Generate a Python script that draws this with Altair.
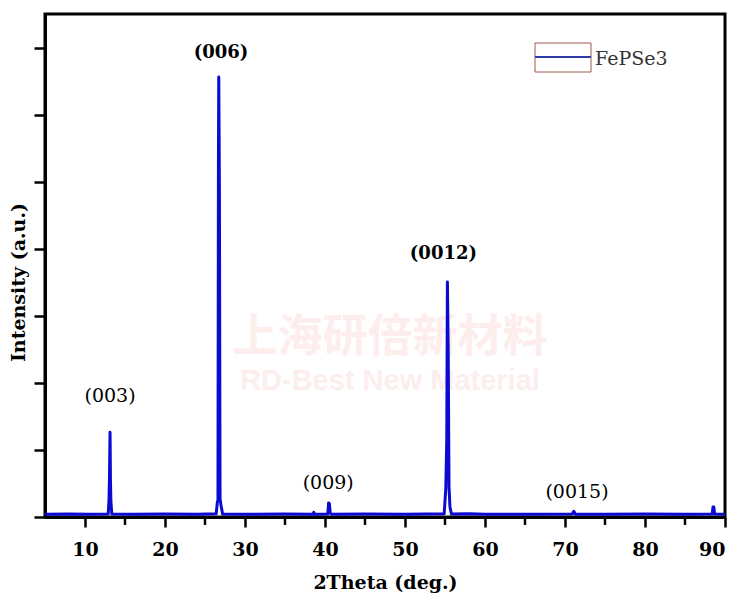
import altair as alt
import pandas as pd

two_theta = [5.0, 8.0, 10.5, 12.9, 13.0, 13.06, 13.13, 13.18, 13.24, 13.35,
             16.0, 20.0, 24.0, 26.4, 26.55, 26.62, 26.68, 26.72, 26.8, 26.88,
             27.0, 27.2, 30.0, 35.0, 38.5, 38.6, 38.7, 40.35, 40.45, 40.55,
             40.65, 40.8, 45.0, 50.0, 54.9, 55.1, 55.22, 55.3, 55.4, 55.5,
             55.62, 55.8, 58.0, 60.0, 65.0, 70.9, 71.1, 71.3, 75.0, 80.0,
             85.0, 88.4, 88.5, 88.6, 88.7, 90.0]
intensity = [0.08, 0.09, 0.08, 0.09, 0.5, 1.2, 2.53, 1.1, 0.45, 0.09,
             0.08, 0.09, 0.08, 0.1, 0.45, 0.5, 10.5, 13.12, 9.8, 0.55,
             0.35, 0.09, 0.08, 0.09, 0.08, 0.14, 0.08, 0.09, 0.42, 0.4,
             0.12, 0.08, 0.09, 0.08, 0.1, 0.85, 2.3, 7.01, 5.0, 0.9,
             0.3, 0.09, 0.1, 0.08, 0.08, 0.09, 0.17, 0.08, 0.08, 0.09,
             0.08, 0.09, 0.3, 0.3, 0.09, 0.08]

bold_labels = ["(006)", "(0012)"]
bold_x = [27.0, 54.8]
bold_y = [13.84, 7.84]
reg_labels = ["(003)", "(009)", "(0015)"]
reg_x = [13.13, 40.4, 71.5]
reg_y = [3.61, 1.01, 0.75]

x_major = [10, 20, 30, 40, 50, 60, 70, 80, 90]
x_minor = [15, 25, 35, 45, 55, 65, 75, 85]
y_ticks = list(range(0, 16))

series_name = ["FePSe3"]
watermark_cn = ["上海研倍新材料"]
watermark_en = ["RD-Best New Material"]

SERIF = "DejaVu Serif"
BLUE = "#0a0ad2"

df = pd.DataFrame({"two_theta": two_theta, "intensity": intensity})
x_scale = alt.Scale(domain=[5, 90], nice=False, zero=False)
y_scale = alt.Scale(domain=[0, 15], nice=False)

line = alt.Chart(df).mark_line(color=BLUE, strokeWidth=3, strokeJoin="round").encode(
    x=alt.X("two_theta:Q", scale=x_scale,
            axis=alt.Axis(values=x_major, title="2Theta (deg.)", tickSize=10,
                          labelPadding=28, labelBaseline="alphabetic",
                          titleBaseline="alphabetic", titleY=71)),
    y=alt.Y("intensity:Q", scale=y_scale,
            axis=alt.Axis(values=y_ticks, labels=False, title="Intensity (a.u.)",
                          tickSize=11, titleX=-17, titleY=268)),
)

minor = alt.Chart(pd.DataFrame({"two_theta": x_minor})).mark_rule(
    color="black", strokeWidth=2.5).encode(
    x=alt.X("two_theta:Q", scale=x_scale),
    y=alt.value(504), y2=alt.value(511))

bold_txt = alt.Chart(pd.DataFrame({"lbl": bold_labels, "two_theta": bold_x, "intensity": bold_y})).mark_text(
    font=SERIF, fontWeight="bold", fontSize=18, color="black", baseline="middle").encode(
    x=alt.X("two_theta:Q", scale=x_scale), y=alt.Y("intensity:Q", scale=y_scale), text="lbl:N")

reg_txt = alt.Chart(pd.DataFrame({"lbl": reg_labels, "two_theta": reg_x, "intensity": reg_y})).mark_text(
    font=SERIF, fontWeight="normal", fontSize=19, color="black", baseline="middle").encode(
    x=alt.X("two_theta:Q", scale=x_scale), y=alt.Y("intensity:Q", scale=y_scale), text="lbl:N")

wm1 = alt.Chart(pd.DataFrame({"t": watermark_cn})).mark_text(
    font="Noto Sans CJK SC", fontWeight="bold", fontSize=45, color="#fdeded",
    baseline="middle").encode(x=alt.value(345), y=alt.value(324), text="t:N")
wm2 = alt.Chart(pd.DataFrame({"t": watermark_en})).mark_text(
    font="Liberation Sans", fontWeight="bold", fontSize=29, color="#fdeeee",
    baseline="middle").encode(x=alt.value(345), y=alt.value(367), text="t:N")

leg_box = alt.Chart(pd.DataFrame({"t": series_name})).mark_rect(
    fillOpacity=0, stroke="#a0584c", strokeWidth=1).encode(
    x=alt.value(490), x2=alt.value(546), y=alt.value(29), y2=alt.value(58))
leg_line = alt.Chart(pd.DataFrame({"t": series_name})).mark_rule(
    color="#2a3aa8", strokeWidth=2).encode(
    x=alt.value(490), x2=alt.value(546), y=alt.value(43))
leg_txt = alt.Chart(pd.DataFrame({"t": series_name})).mark_text(
    font=SERIF, fontSize=19, color="#333333", align="left", baseline="middle").encode(
    x=alt.value(550), y=alt.value(45), text="t:N")

chart = alt.layer(wm1, wm2, minor, line, bold_txt, reg_txt, leg_box, leg_line, leg_txt).properties(
    width=680, height=503,
    autosize=alt.AutoSizeParams(type="none"),
    padding={"left": 37, "top": 6, "right": 17, "bottom": 80},
).configure_axis(
    labelFont=SERIF, labelFontWeight="bold", labelFontSize=19, labelColor="black",
    titleFont=SERIF, titleFontWeight="bold", titleFontSize=19, titleColor="black",
    domainColor="black", domainWidth=3, tickColor="black", tickWidth=2.5, grid=False,
).configure_view(stroke="black", strokeWidth=3)

chart.save("out.html", embed_options={"renderer": "svg", "actions": False})
